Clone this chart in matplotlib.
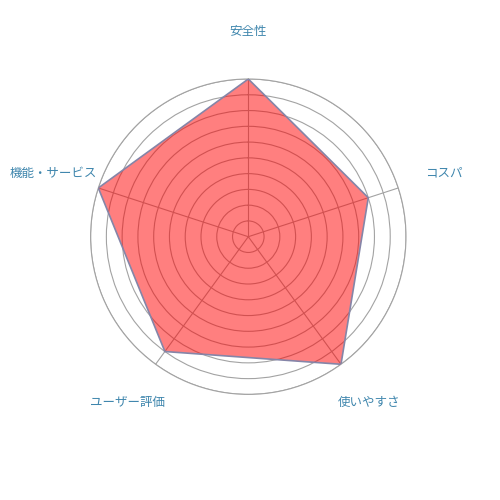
import numpy as np
import matplotlib.pyplot as plt

plt.rcParams['font.family'] = ['Noto Sans CJK JP', 'DejaVu Sans']

# Radar chart data (scale 0-5, step 0.5)
labels = ['安全性', 'コスパ', '使いやすさ', 'ユーザー評価', '機能・サービス']
scores = [5.0, 4.0, 5.0, 4.5, 5.0]
ring_steps = np.arange(0.5, 5.01, 0.5)

n = len(labels)
angles = np.linspace(0, 2 * np.pi, n, endpoint=False)

fig = plt.figure(figsize=(5, 5), dpi=100)
ax = fig.add_axes([0.1812, 0.2112, 0.6308, 0.6308], projection='polar')
ax.set_theta_offset(np.pi / 2)
ax.set_theta_direction(-1)
ax.set_ylim(0, 5)

# Grid rings and spokes
grid_color = '#a3a3a3'
ax.set_rgrids(ring_steps, labels=[''] * len(ring_steps))
ax.set_thetagrids(np.degrees(angles), labels=[''] * n)
ax.grid(True, color=grid_color, linewidth=0.8)
ax.spines['polar'].set_color(grid_color)
ax.spines['polar'].set_linewidth(0.8)
ax.set_facecolor('none')

# Data polygon
theta = np.append(angles, angles[0])
vals = np.append(scores, scores[0])
ax.fill(theta, vals, color='#ff0000', alpha=0.5, zorder=3, linewidth=0)
ax.plot(theta, vals, color='#8585a8', linewidth=1.2, zorder=4)

# Category labels
for a, lab in zip(angles, labels):
    ax.text(a, 6.5, lab, ha='center', va='center', fontsize=9,
            color='#3f86ad', clip_on=False)

fig.savefig('out.png', dpi=100, facecolor='white')
